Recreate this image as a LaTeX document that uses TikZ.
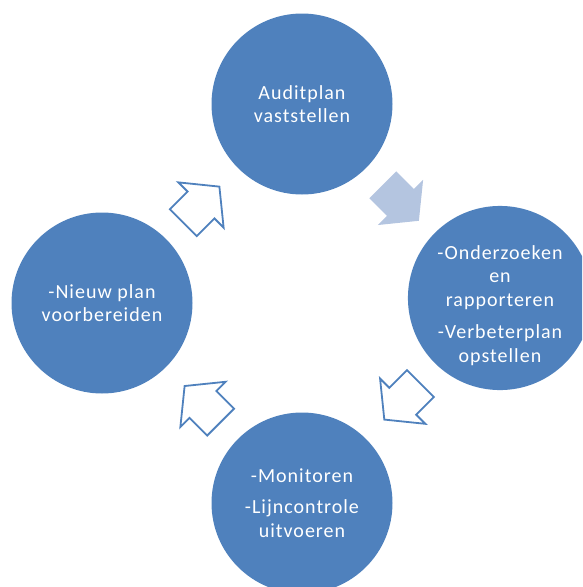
\documentclass[tikz,border=0pt]{standalone}
\usepackage{fontspec}
\setmainfont{Carlito}[LetterSpace=5]
\definecolor{phaseblue}{RGB}{79,129,189}
\definecolor{arrowfill}{RGB}{180,197,224}
% block arrow: head base at (#1,#2), turned by #3, style #4
\newcommand{\cyclearrow}[4]{%
  \begin{scope}[shift={(#1,#2)}, rotate=#3]
    \path[#4] (-25,19) -- (0,19) -- (0,32) -- (26,0) -- (0,-32) -- (0,-19) -- (-25,-19) -- cycle;
  \end{scope}}
\begin{document}
\begin{tikzpicture}[x=1pt, y=-1pt,
    phase/.style={circle, fill=phaseblue, minimum size=181pt, inner sep=0pt,
      text=white, align=center, font=\fontsize{20}{23.5}\selectfont},
    openarrow/.style={draw=phaseblue, fill=white, line width=1.8pt, line join=miter},
    fullarrow/.style={fill=arrowfill}]
        % Picture frame
        \useasboundingbox (0,0) rectangle (582,587);
        \clip (0,0) rectangle (582,587);
        % Phase circles
        \node[phase] (auditplan) at (302,104) {Auditplan\\vaststellen};
        \node[phase] (onderzoek) at (500,298) {\rule{0pt}{29pt}-Onderzoeken\\en\\rapporteren\\[9pt]-Verbeterplan\\opstellen};
        \node[phase] (monitor) at (302,503) {-Monitoren\\[8pt]-Lijncontrole\\uitvoeren};
        \node[phase] (nieuwplan) at (102,303) {-Nieuw plan\\voorbereiden};
        % Cycle arrows
        \cyclearrow{201}{205}{45}{openarrow}
        \cyclearrow{400.5}{202.4}{-45}{fullarrow}
        \cyclearrow{402.7}{401.2}{-135}{openarrow}
        \cyclearrow{203}{404.4}{135}{openarrow}
\end{tikzpicture}
\end{document}
